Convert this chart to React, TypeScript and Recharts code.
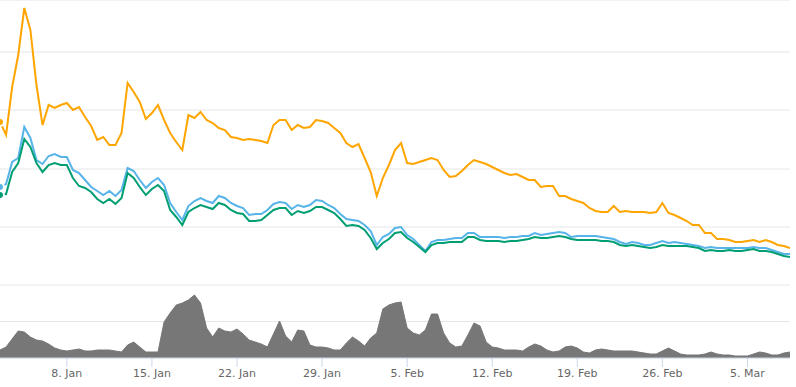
import React from 'react';
import { LineChart, Line, AreaChart, Area, XAxis, YAxis, CartesianGrid } from 'recharts';

// 12-hour samples starting 2 Jan 2018 12:00 UTC
const START = Date.UTC(2018, 0, 2, 12);
const STEP = 12 * 3600 * 1000;

const orange = [
  163, 150, 198, 230, 277, 255, 200, 160, 180, 177,
  180, 182, 175, 178, 168, 159, 145, 148, 140, 140,
  152, 202, 193, 183, 166, 172, 180, 165, 152, 143,
  135, 170, 167, 173, 165, 162, 157, 155, 148, 147,
  145, 146, 145, 144, 142, 160, 165, 165, 155, 160,
  157, 158, 165, 164, 162, 157, 152, 142, 138, 141,
  127, 113, 89, 107, 120, 135, 142, 122, 121, 123,
  125, 127, 125, 115, 108, 109, 114, 120, 125, 123,
  121, 118, 115, 112, 110, 111, 108, 105, 105, 98,
  99, 99, 89, 89, 86, 84, 82, 77, 74, 73,
  73, 79, 73, 74, 73, 73, 73, 72, 73, 82,
  72, 70, 67, 64, 60, 60, 52, 52, 46, 46,
  45, 43, 43, 44, 45, 43, 45, 43, 40, 39,
  37,
];

const blue = [
  98, 101, 123, 127, 158, 147, 125, 121, 129, 131,
  128, 128, 115, 112, 105, 98, 94, 90, 94, 89,
  95, 117, 114, 105, 97, 103, 107, 100, 82, 73,
  65, 79, 84, 87, 84, 82, 89, 87, 82, 79,
  77, 70, 71, 71, 75, 81, 83, 82, 76, 80,
  78, 80, 85, 84, 80, 77, 71, 66, 65, 64,
  60, 54, 40, 48, 51, 57, 58, 50, 46, 40,
  34, 43, 45, 45, 46, 47, 47, 52, 52, 48,
  48, 48, 48, 47, 48, 48, 49, 49, 52, 50,
  51, 52, 53, 52, 48, 49, 49, 49, 49, 48,
  47, 46, 43, 41, 43, 42, 40, 40, 42, 44,
  42, 43, 42, 41, 40, 39, 37, 38, 37, 37,
  37, 37, 37, 37, 38, 37, 37, 35, 33, 31,
  31,
];

const green = [
  90, 91, 113, 122, 146, 138, 122, 113, 120, 122,
  120, 120, 107, 99, 97, 93, 86, 82, 86, 81,
  87, 112, 107, 98, 90, 96, 100, 94, 75, 68,
  60, 73, 77, 80, 78, 76, 82, 80, 75, 72,
  71, 64, 64, 65, 70, 75, 77, 77, 70, 74,
  72, 74, 78, 78, 75, 72, 66, 59, 60, 59,
  55, 47, 36, 42, 46, 52, 53, 47, 43, 38,
  33, 40, 42, 42, 43, 43, 43, 48, 48, 45,
  44, 44, 44, 43, 44, 44, 45, 46, 48, 47,
  47, 48, 49, 48, 46, 45, 45, 45, 45, 44,
  44, 43, 40, 39, 40, 39, 38, 37, 38, 40,
  39, 39, 39, 39, 38, 37, 34, 35, 34, 34,
  35, 34, 34, 35, 36, 34, 34, 33, 31, 29,
  28,
];

const volume = [
  8, 11, 19, 27, 26, 21, 18, 17, 14, 10,
  8, 7, 8, 9, 7, 7, 8, 8, 8, 7,
  6, 13, 16, 11, 6, 6, 6, 36, 45, 53,
  55, 58, 63, 55, 30, 21, 30, 27, 26, 29,
  24, 18, 16, 14, 11, 24, 37, 22, 16, 28,
  27, 13, 11, 11, 10, 8, 8, 15, 21, 17,
  12, 20, 25, 49, 53, 55, 56, 30, 25, 23,
  28, 44, 44, 25, 15, 11, 12, 23, 35, 32,
  16, 11, 10, 8, 8, 8, 7, 11, 14, 12,
  8, 6, 7, 11, 12, 10, 6, 5, 8, 9,
  8, 7, 7, 7, 7, 6, 5, 4, 4, 7,
  10, 7, 4, 3, 3, 3, 4, 6, 4, 3,
  3, 2, 2, 2, 4, 6, 5, 3, 3, 5,
  6,
];

const priceTicks = [0, 58, 116, 175, 233];
const volumeTicks = [0, 36.5, 73];
const dateTicks = [
  Date.UTC(2018, 0, 8), Date.UTC(2018, 0, 15), Date.UTC(2018, 0, 22), Date.UTC(2018, 0, 29),
  Date.UTC(2018, 1, 5), Date.UTC(2018, 1, 12), Date.UTC(2018, 1, 19), Date.UTC(2018, 1, 26),
  Date.UTC(2018, 2, 5),
];
const months = ['Jan', 'Feb', 'Mar', 'Apr', 'May', 'Jun', 'Jul', 'Aug', 'Sep', 'Oct', 'Nov', 'Dec'];

const data = orange.map((o, i) => ({
  t: START + i * STEP,
  orange: o,
  blue: blue[i],
  green: green[i],
  volume: volume[i],
}));

const domain = [START, START + (orange.length - 1) * STEP];
const fmtDate = (t: number) => {
  const d = new Date(t);
  return `${d.getUTCDate()}. ${months[d.getUTCMonth()]}`;
};

export default function App() {
  return (
    <div style={{ position: 'absolute', left: 0, top: 0, width: 796, height: 387, background: '#fff', fontFamily: '"DejaVu Sans", sans-serif' }}>
      <div style={{ position: 'absolute', left: 0, top: 0 }}>
        <LineChart width={790} height={285} data={data} margin={{ top: 0, right: 0, bottom: 0, left: 0 }}>
          <CartesianGrid vertical={false} stroke="#e6e6e6" />
          <XAxis dataKey="t" type="number" domain={domain} hide />
          <YAxis type="number" domain={[0, 285]} ticks={priceTicks} hide />
          <Line dataKey="orange" stroke="#ffa500" strokeWidth={2} dot={false} isAnimationActive={false} />
          <Line dataKey="blue" stroke="#56b4e9" strokeWidth={2} dot={false} isAnimationActive={false} />
          <Line dataKey="green" stroke="#009e73" strokeWidth={2} dot={false} isAnimationActive={false} />
        </LineChart>
      </div>
      <div style={{ position: 'absolute', left: 0, top: 285 }}>
        <AreaChart width={790} height={102} data={data} margin={{ top: 0, right: 0, bottom: 0, left: 0 }}>
          <CartesianGrid vertical={false} stroke="#e6e6e6" />
          <XAxis
            dataKey="t"
            type="number"
            domain={domain}
            ticks={dateTicks}
            tickFormatter={fmtDate}
            height={29}
            tickSize={9}
            stroke="#ccd6eb"
            tick={{ fontSize: 11, fill: '#666666' }}
          />
          <YAxis type="number" domain={[0, 73]} ticks={volumeTicks} hide />
          <Area dataKey="volume" stroke="#777777" strokeWidth={1} fill="#777777" fillOpacity={1} dot={false} isAnimationActive={false} />
        </AreaChart>
      </div>
    </div>
  );
}
